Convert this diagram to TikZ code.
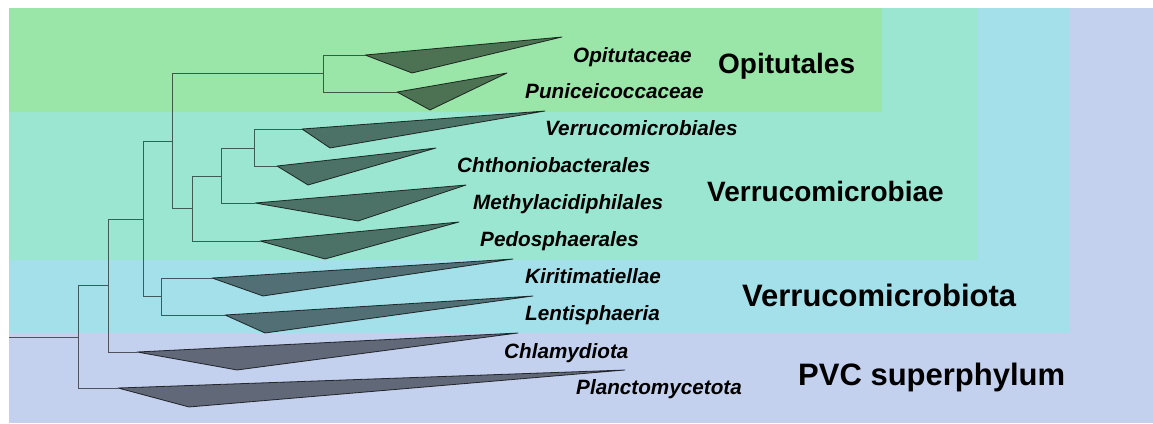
\documentclass[tikz,border=0pt]{standalone}
\usepackage{fontspec}
\setmainfont{Liberation Sans}
\usetikzlibrary{calc}
\definecolor{bgPVC}{RGB}{195,209,239}
\definecolor{bgVota}{RGB}{164,224,233}
\definecolor{bgVae}{RGB}{154,230,208}
\definecolor{bgOpi}{RGB}{154,229,168}
\tikzset{
  branch/.style={draw=black, draw opacity=0.6, line width=0.9pt},
  clade/.style={fill=black, fill opacity=0.5, draw=black, draw opacity=0.75, line width=0.8pt, line join=round},
  guide/.style={draw=black, draw opacity=0.12, dash pattern=on 4pt off 4pt, line width=0.6pt},
  taxon/.style={anchor=base west, inner sep=0pt, font=\fontsize{20.7}{24}\selectfont\bfseries\itshape},
  group/.style={anchor=base west, inner sep=0pt, font=\fontsize{28}{32}\selectfont\bfseries},
  biggroup/.style={anchor=base west, inner sep=0pt, font=\fontsize{31}{35}\selectfont\bfseries}
}
\begin{document}
\begin{tikzpicture}[x=1pt,y=-1pt]
\useasboundingbox (0,0) rectangle (1153,423);
\fill[white] (0,0) rectangle (1153,423);
% nested group backgrounds
\fill[bgPVC] (9,8) rectangle (1153,423);
\fill[bgVota] (9,8) rectangle (1069,333);
\fill[bgVae] (9,8) rectangle (978,260);
\fill[bgOpi] (9,8) rectangle (882,112);

% internal nodes
\coordinate (r0) at (9,337);
\coordinate (n1) at (78,337);
\coordinate (n2) at (108,285);
\coordinate (n3) at (143,219);
\coordinate (n4) at (172,141);
\coordinate (n5) at (161,296);
\coordinate (n6) at (323,73);
\coordinate (n7) at (192,208);
\coordinate (n8) at (221,176);
\coordinate (n9) at (254,148);

% clade triangles: s = start, t = tip, b = bottom
\coordinate (opiS) at (365,55);  \coordinate (opiT) at (562,37);  \coordinate (opiB) at (412,73);
\coordinate (punS) at (397,92);  \coordinate (punT) at (507,73);  \coordinate (punB) at (430,110);
\coordinate (verS) at (302,129); \coordinate (verT) at (545,111); \coordinate (verB) at (330,148);
\coordinate (chtS) at (277,166); \coordinate (chtT) at (436,148); \coordinate (chtB) at (308,185);
\coordinate (metS) at (255,203); \coordinate (metT) at (466,185); \coordinate (metB) at (358,221);
\coordinate (pedS) at (260,241); \coordinate (pedT) at (459,222); \coordinate (pedB) at (325,259);
\coordinate (kirS) at (212,278); \coordinate (kirT) at (513,259); \coordinate (kirB) at (263,296);
\coordinate (lenS) at (225,315); \coordinate (lenT) at (533,296); \coordinate (lenB) at (265,333);
\coordinate (chlS) at (137,352); \coordinate (chlT) at (518,333); \coordinate (chlB) at (237,370);
\coordinate (plaS) at (118,388); \coordinate (plaT) at (625,370); \coordinate (plaB) at (189,407);

% branches
\draw[branch] (r0) -- (n1);
\draw[branch] (n1) |- (n2);
\draw[branch] (n1) |- (plaS);
\draw[branch] (n2) |- (n3);
\draw[branch] (n2) |- (chlS);
\draw[branch] (n3) |- (n4);
\draw[branch] (n3) |- (n5);
\draw[branch] (n5) |- (kirS);
\draw[branch] (n5) |- (lenS);
\draw[branch] (n4) |- (n6);
\draw[branch] (n4) |- (n7);
\draw[branch] (n6) |- (opiS);
\draw[branch] (n6) |- (punS);
\draw[branch] (n7) |- (n8);
\draw[branch] (n7) |- (pedS);
\draw[branch] (n8) |- (n9);
\draw[branch] (n8) |- (metS);
\draw[branch] (n9) |- (verS);
\draw[branch] (n9) |- (chtS);

% triangles
\foreach \c in {opi,pun,ver,cht,met,ped,kir,len,chl,pla}{
  \filldraw[clade] (\c S) -- (\c T) -- (\c B) -- cycle;
}

% taxon labels
\node[taxon] (lopi) at (573,62) {Opitutaceae};
\node[taxon] (lpun) at (525,98) {Puniceicoccaceae};
\node[taxon] (lver) at (545,135) {Verrucomicrobiales};
\node[taxon] (lcht) at (457,172) {Chthoniobacterales};
\node[taxon] (lmet) at (473,209) {Methylacidiphilales};
\node[taxon] (lped) at (480,246) {Pedosphaerales};
\node[taxon] (lkir) at (525,283) {Kiritimatiellae};
\node[taxon] (llen) at (525,320) {Lentisphaeria};
\node[taxon] (lchl) at (504,358) {Chlamydiota};
\node[taxon] (lpla) at (576,394) {Planctomycetota};

% guide lines from clades to labels
\foreach \c in {opi,pun,ver,cht,met,ped,kir,len,chl,pla}{
  \draw[guide] ($(\c B)!0.5!(\c T)$) -- ($(\c B)!0.5!(\c T)$ -| l\c.west);
}

% group labels
\node[group] (gopi) at (718,73) {Opitutales};
\node[group] (gvae) at (707,201) {Verrucomicrobiae};
\node[biggroup] (gvota) at (742,306) {Verrucomicrobiota};
\node[biggroup] (gpvc) at (798,385) {PVC superphylum};
\end{tikzpicture}
\end{document}
